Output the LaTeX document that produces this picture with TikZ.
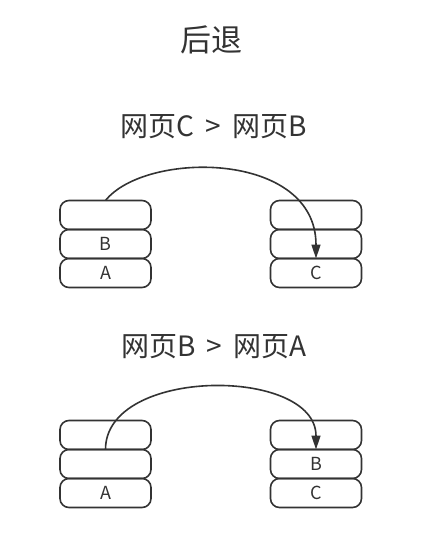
\documentclass[tikz,border=0pt]{standalone}
\usepackage{fontspec}
\setmainfont{Noto Sans CJK SC}
\usetikzlibrary{arrows.meta, positioning}
\definecolor{cINK}{HTML}{333333}

\begin{document}
\begin{tikzpicture}[x=1pt, y=-1pt,
  cell/.style={draw=cINK, line width=1.6pt, rounded corners=9pt,
    minimum width=91pt, minimum height=29pt, inner sep=0pt, outer sep=0pt,
    text=cINK, font=\fontsize{18}{18}\selectfont},
  head/.style={text=cINK, font=\fontsize{28}{28}\selectfont},
  hop/.style={draw=cINK, line width=1.6pt, -{Triangle[length=14pt,width=9pt]}}]
  \useasboundingbox (0,0) rectangle (432,539);

  % title
  \node[head, font=\fontsize{31}{31}\selectfont] (back) at (211,40) {后退};

  % step one: C > B
  \node[head] (stepone) at (214,127) {网页C\hspace{0.4em}>\hspace{0.4em}网页B};
  \node[cell] (la1) at (105.5,215) {};
  \node[cell, below=0pt of la1] (lb1) {B};
  \node[cell, below=0pt of lb1] (lc1) {A};
  \node[cell] (ra1) at (316,215) {};
  \node[cell, below=0pt of ra1] (rb1) {};
  \node[cell, below=0pt of rb1] (rc1) {C};
  \draw[hop] (la1.north) .. controls +(40,-50) and +(0,-108) .. (rc1.north);

  % step two: B > A
  \node[head] (steptwo) at (214,347) {网页B\hspace{0.4em}>\hspace{0.4em}网页A};
  \node[cell] (la2) at (105.5,435) {};
  \node[cell, below=0pt of la2] (lb2) {};
  \node[cell, below=0pt of lb2] (lc2) {A};
  \node[cell] (ra2) at (316,435) {};
  \node[cell, below=0pt of ra2] (rb2) {B};
  \node[cell, below=0pt of rb2] (rc2) {C};
  \draw[hop] (lb2.north) .. controls +(0,-83) and +(0,-83) .. (rb2.north);
\end{tikzpicture}
\end{document}
